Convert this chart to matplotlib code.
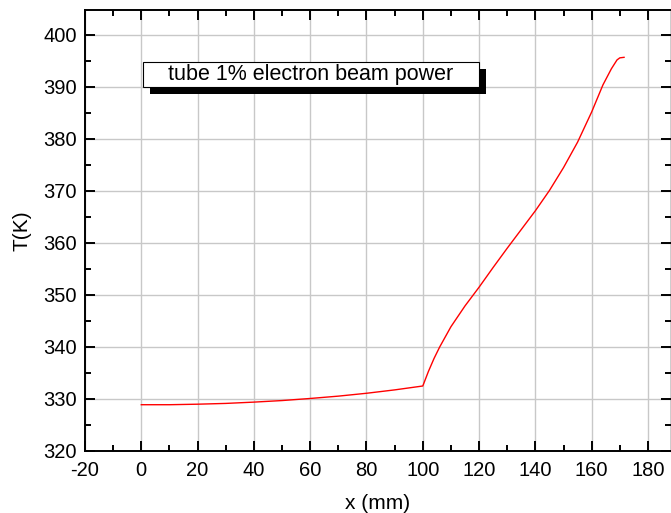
import matplotlib
matplotlib.use("Agg")
from matplotlib import pyplot as plt
from matplotlib.patches import Rectangle
from matplotlib.ticker import MultipleLocator

plt.rcParams['font.family'] = ['Liberation Sans', 'DejaVu Sans']
plt.rcParams['axes.unicode_minus'] = False

# temperature along the tube: flat part up to 100 mm, then the heated section
x_mm = [0, 10, 20, 30, 40, 50, 60, 70, 80, 90, 100,
        102, 104, 106, 110, 115, 120, 125, 130, 135, 140,
        145, 150, 155, 160, 164, 167, 169, 170, 171.5]
temp_k = [328.9, 328.9, 329.0, 329.15, 329.4, 329.7, 330.1, 330.55, 331.1, 331.75, 332.5,
          335.3, 337.8, 340.0, 343.9, 347.9, 351.5, 355.3, 359.0, 362.6, 366.2,
          370.1, 374.5, 379.4, 385.2, 390.4, 393.5, 395.2, 395.6, 395.7]
series_label = 'tube 1% electron beam power'

fig = plt.figure(figsize=(6.71, 5.13), dpi=100)
ax = fig.add_axes([85 / 671, 62 / 513, 585.5 / 671, 441 / 513])

ax.plot(x_mm, temp_k, color='red', lw=1.0, zorder=3)

ax.set_xlim(-20, 188)
ax.set_ylim(320, 404.8)
ax.xaxis.set_major_locator(MultipleLocator(20))
ax.xaxis.set_minor_locator(MultipleLocator(10))
ax.yaxis.set_major_locator(MultipleLocator(10))
ax.yaxis.set_minor_locator(MultipleLocator(5))

ax.grid(True, which='major', color='#c8c8c8', lw=1.0, zorder=0)
ax.set_axisbelow(True)

ax.tick_params(which='both', direction='in', top=True, right=True, width=1.4, labelsize=14.5)
ax.tick_params(which='major', length=7)
ax.tick_params(which='minor', length=4)
ax.tick_params(axis='x', pad=7)
ax.tick_params(axis='y', pad=6)
for side in ['left', 'bottom', 'top']:
    ax.spines[side].set_linewidth(1.4)
ax.spines['right'].set_linewidth(1.0)

ax.set_xlabel('x (mm)', fontsize=15, labelpad=10)
ax.set_ylabel('T(K)', fontsize=15, labelpad=8)

# legend box with a hard black drop shadow
bx, by, bw, bh = 0.0991, 0.825, 0.574, 0.057
ax.add_patch(Rectangle((bx + 0.012, by - 0.016), bw, bh, transform=ax.transAxes,
                       facecolor='black', edgecolor='black', lw=0, zorder=4))
ax.add_patch(Rectangle((bx, by), bw, bh, transform=ax.transAxes,
                       facecolor='white', edgecolor='black', lw=0.8, zorder=5))
ax.text(bx + bw / 2, by + bh / 2, series_label, transform=ax.transAxes,
        ha='center', va='center', fontsize=15.5, zorder=6)

fig.savefig('out.png', dpi=100)
